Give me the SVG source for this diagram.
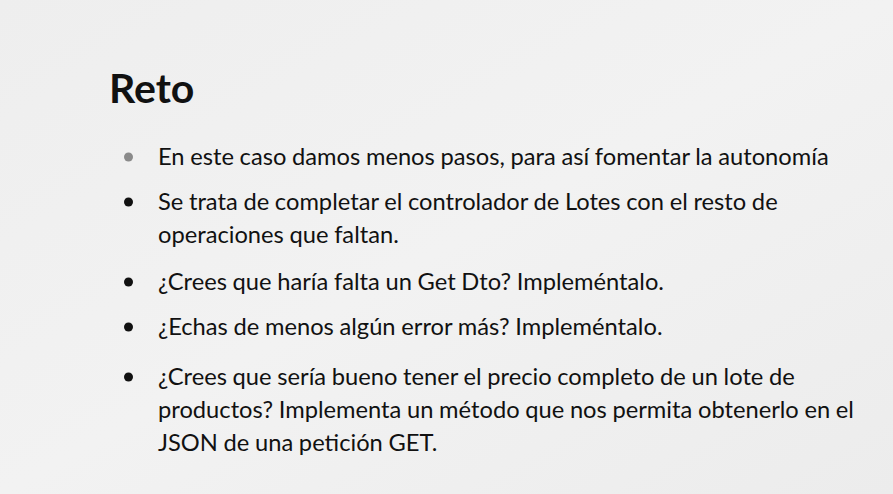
<svg xmlns="http://www.w3.org/2000/svg" width="893" height="494" viewBox="0 0 893 494">
<defs>
<linearGradient id="bg" x1="0" y1="0" x2="1" y2="1">
<stop offset="0" stop-color="#eeeeee"/>
<stop offset="0.5" stop-color="#f2f2f2"/>
<stop offset="1" stop-color="#ececec"/>
</linearGradient>
</defs>
<style>
.t{font-family:Lato,"Open Sans","Liberation Sans",sans-serif;fill:#111111}
.h{font-size:41px;font-weight:bold}
.b{font-size:23.7px;word-spacing:-0.4px}
</style>
<rect width="893" height="494" fill="url(#bg)"/>
<g id="title"><text class="t h" x="109" y="103">Reto</text></g>
<g id="bullets">
<circle cx="128.5" cy="157" r="4.5" fill="#8a8a8a"/>
<circle cx="128.5" cy="202" r="4.5" fill="#111"/>
<circle cx="128.5" cy="282" r="4.5" fill="#111"/>
<circle cx="128.5" cy="327" r="4.5" fill="#111"/>
<circle cx="128.5" cy="377" r="4.5" fill="#111"/>
</g>
<g id="body">
<text class="t b" x="158" y="165">En este caso damos menos pasos, para así fomentar la autonomía</text>
<text class="t b" x="158" y="210">Se trata de completar el controlador de Lotes con el resto de</text>
<text class="t b" x="158" y="243">operaciones que faltan.</text>
<text class="t b" x="158" y="290">¿Crees que haría falta un Get Dto? Impleméntalo.</text>
<text class="t b" x="158" y="335">¿Echas de menos algún error más? Impleméntalo.</text>
<text class="t b" x="158" y="385">¿Crees que sería bueno tener el precio completo de un lote de</text>
<text class="t b" x="158" y="418">productos? Implementa un método que nos permita obtenerlo en el</text>
<text class="t b" x="158" y="451">JSON de una petición GET.</text>
</g>
</svg>
